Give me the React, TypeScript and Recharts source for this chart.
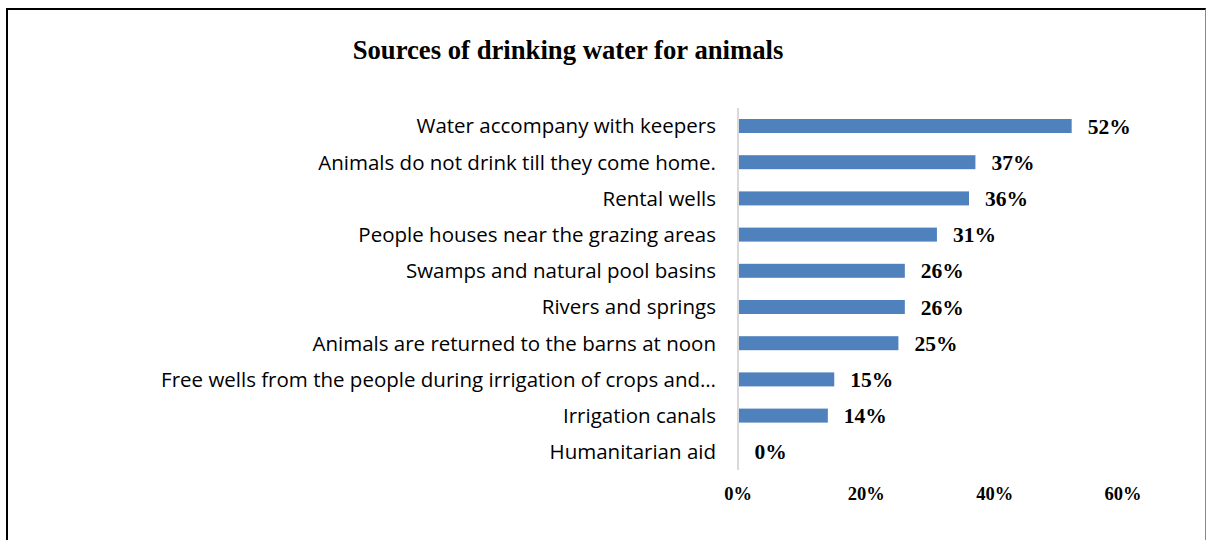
import React from "react";
import {
  BarChart,
  Bar,
  XAxis,
  YAxis,
  LabelList,
} from "recharts";

// water sources, top to bottom
const SOURCES = [
  "Water accompany with keepers",
  "Animals do not drink till they come home.",
  "Rental wells",
  "People houses near the grazing areas",
  "Swamps and natural pool basins",
  "Rivers and springs",
  "Animals are returned to the barns at noon",
  "Free wells from the people during irrigation of crops and…",
  "Irrigation canals",
  "Humanitarian aid",
];

const SHARES = [0.52, 0.37, 0.36, 0.31, 0.26, 0.26, 0.25, 0.15, 0.14, 0];

const X_TICKS = [0, 0.2, 0.4, 0.6];

const data = SOURCES.map((name, i) => ({ name, share: SHARES[i] }));

const pct = (v: number) => `${Math.round(v * 100)}%`;

const SERIF = "'Liberation Serif', 'Times New Roman', serif";
const SANS = "'Open Sans', 'Noto Sans', sans-serif";

// zero-valued rows keep a hairline so their label still gets placed, but draw no rect
const BarShape = (props: any) => {
  const { x, y, width, height, fill, share } = props;
  if (!share) return <g />;
  return <rect x={x} y={y} width={width} height={height} fill={fill} />;
};

export default function App() {
  return (
    <div
      style={{
        position: "absolute",
        left: 0,
        top: 0,
        width: 1206,
        height: 540,
        background: "#fff",
        overflow: "hidden",
      }}
    >
      <div
        style={{
          position: "absolute",
          left: 6,
          top: 8,
          width: 1197,
          height: 540,
          borderLeft: "2px solid #000",
          borderTop: "2px solid #000",
          borderRight: "1px solid #888",
        }}
      />

      <div
        style={{
          position: "absolute",
          left: 268,
          top: 35,
          width: 600,
          textAlign: "center",
          fontFamily: SERIF,
          fontWeight: "bold",
          fontSize: 26.7,
          color: "#000",
          whiteSpace: "nowrap",
        }}
      >
        Sources of drinking water for animals
      </div>

      <div style={{ position: "absolute", left: 0, top: 0 }}>
        <BarChart
          width={1206}
          height={540}
          data={data}
          layout="vertical"
          margin={{ top: 108, right: 83, bottom: 40, left: 0 }}
        >
          <XAxis
            type="number"
            domain={[0, 0.6]}
            ticks={X_TICKS}
            tickFormatter={pct}
            axisLine={false}
            tickLine={false}
            height={30}
            tickMargin={11}
            tick={{
              fontFamily: SERIF,
              fontWeight: "bold",
              fontSize: 18.5,
              fill: "#000",
            }}
          />
          <YAxis
            type="category"
            dataKey="name"
            width={738}
            axisLine={{ stroke: "#d9d9d9", strokeWidth: 2 }}
            tickLine={false}
            tickSize={0}
            tickMargin={22}
            interval={0}
            tick={{ fontFamily: SANS, fontSize: 20.5, fill: "#000" }}
          />
          <Bar
            dataKey="share"
            fill="#4f81bd"
            barSize={14}
            minPointSize={0.5}
            shape={BarShape}
            isAnimationActive={false}
          >
            <LabelList
              dataKey="share"
              position="right"
              offset={16}
              formatter={(v: any) => pct(Number(v))}
              style={{
                fontFamily: SERIF,
                fontWeight: "bold",
                fontSize: 21.5,
                fill: "#000",
              }}
            />
          </Bar>
        </BarChart>
      </div>
    </div>
  );
}
